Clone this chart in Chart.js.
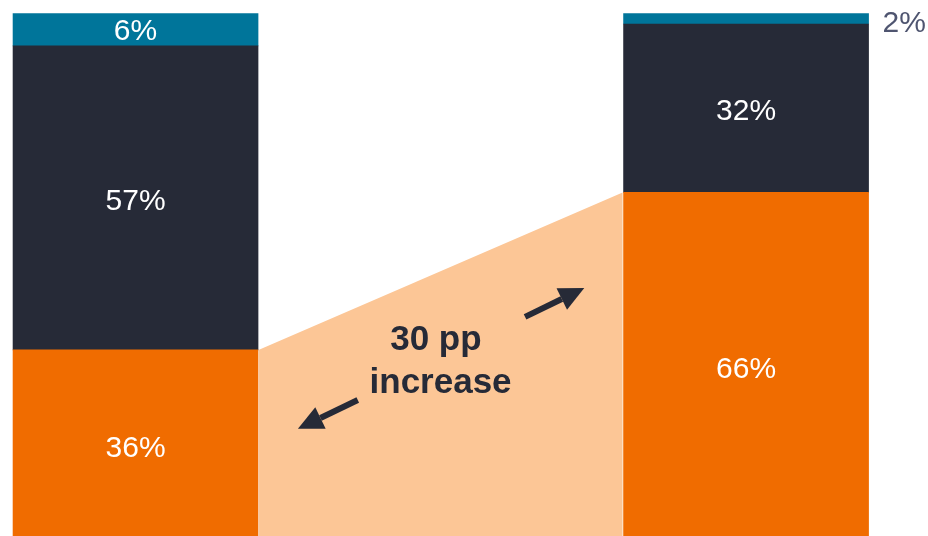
<!DOCTYPE html>
<html>
<head>
<meta charset="utf-8">
<script src="https://cdn.jsdelivr.net/npm/chart.js"></script>
<style>
  html, body { margin: 0; padding: 0; background: #ffffff; }
  #wrap { width: 928px; height: 536px; position: relative; }
</style>
</head>
<body>
<div id="wrap"><canvas id="bar-chart"></canvas></div>
<script>
// two stacked bars (before / after), shares in %
const positions = [0, 1];
const orangeValues = [35.6, 65.7];
const darkValues = [58.1, 32.2];
const tealValues = [6.2, 2.0];
const orangeLabels = ['36%', '66%'];
const darkLabels = ['57%', '32%'];
const tealLabels = ['6%', '2%'];

const calloutLines = ['30 pp', 'increase'];

const ORANGE = '#f06c00';
const DARK = '#262a37';
const TEAL = '#00759a';
const SHADE = '#fcc696';

const toPoints = (vals) => vals.map((v, i) => ({ x: positions[i], y: v }));

// shaded band joining the tops of the two orange segments
const shadePlugin = {
    id: 'shade',
    beforeDatasetsDraw(chart) {
        const ctx = chart.ctx;
        const bars = chart.getDatasetMeta(0).data;
        const left = bars[0], right = bars[1];
        const x0 = left.x + left.width / 2 + 1;
        const x1 = right.x - right.width / 2 - 1;
        ctx.save();
        ctx.fillStyle = SHADE;
        ctx.beginPath();
        ctx.moveTo(x0, left.base);
        ctx.lineTo(x0, left.y);
        ctx.lineTo(x1, right.y);
        ctx.lineTo(x1, right.base);
        ctx.closePath();
        ctx.fill();
        ctx.restore();
    }
};

function drawArrow(ctx, x0, y0, x1, y1) {
    const ang = Math.atan2(y1 - y0, x1 - x0);
    const headLen = 25, headW = 12;
    const bx = x1 - headLen * Math.cos(ang);
    const by = y1 - headLen * Math.sin(ang);
    ctx.beginPath();
    ctx.moveTo(x0, y0);
    ctx.lineTo(bx, by);
    ctx.stroke();
    ctx.beginPath();
    ctx.moveTo(x1, y1);
    ctx.lineTo(bx + headW * Math.sin(ang), by - headW * Math.cos(ang));
    ctx.lineTo(bx - headW * Math.sin(ang), by + headW * Math.cos(ang));
    ctx.closePath();
    ctx.fill();
}

// value labels + arrows + callout text
const labelPlugin = {
    id: 'labels',
    afterDatasetsDraw(chart) {
        const ctx = chart.ctx;
        const xs = chart.scales.x, ys = chart.scales.y;
        const size = 30;
        const half = size * 0.716 / 2; // half of digit height
        const nudge = [3, 1, 0];       // orange labels sit a bit low in the original
        ctx.save();
        ctx.textBaseline = 'alphabetic';
        ctx.font = size + 'px "Liberation Sans", Arial, sans-serif';
        chart.data.datasets.forEach((ds, di) => {
            chart.getDatasetMeta(di).data.forEach((el, i) => {
                const txt = ds.labels[i];
                const h = el.base - el.y;
                const cy = (el.y + el.base) / 2;
                if (h > 24) {
                    ctx.fillStyle = '#ffffff';
                    ctx.textAlign = 'center';
                    ctx.fillText(txt, el.x, cy + half + nudge[di]);
                } else {
                    ctx.fillStyle = '#4f5570';
                    ctx.textAlign = 'left';
                    ctx.fillText(txt, el.x + el.width / 2 + 14, cy + half + 3);
                }
            });
        });

        ctx.strokeStyle = DARK;
        ctx.fillStyle = DARK;
        ctx.lineWidth = 6;
        drawArrow(ctx, xs.getPixelForValue(0.364), ys.getPixelForValue(26.0),
                       xs.getPixelForValue(0.266), ys.getPixelForValue(20.5));
        drawArrow(ctx, xs.getPixelForValue(0.638), ys.getPixelForValue(41.9),
                       xs.getPixelForValue(0.735), ys.getPixelForValue(47.4));

        ctx.font = 'bold 35px "Liberation Sans", Arial, sans-serif';
        ctx.textAlign = 'center';
        ctx.textBaseline = 'alphabetic';
        ctx.fillText(calloutLines[0], xs.getPixelForValue(0.492), ys.getPixelForValue(35.6));
        ctx.fillText(calloutLines[1], xs.getPixelForValue(0.4996), ys.getPixelForValue(27.3));
        ctx.restore();
    }
};

const ctx = document.getElementById('bar-chart').getContext('2d');
new Chart(ctx, {
    type: 'bar',
    data: {
        datasets: [
            { label: 'orange', data: toPoints(orangeValues), labels: orangeLabels, backgroundColor: ORANGE, stack: 's' },
            { label: 'dark', data: toPoints(darkValues), labels: darkLabels, backgroundColor: DARK, stack: 's' },
            { label: 'teal', data: toPoints(tealValues), labels: tealLabels, backgroundColor: TEAL, stack: 's' }
        ]
    },
    options: {
        responsive: true,
        maintainAspectRatio: false,
        animation: false,
        barThickness: 245,
        layout: { padding: { top: 13, bottom: 0, left: 0, right: 0 } },
        plugins: {
            legend: { display: false },
            tooltip: { enabled: false }
        },
        scales: {
            x: { type: 'linear', display: false, offset: false, min: -0.222, max: 1.298 },
            y: { display: false, stacked: true, min: 0, max: 100 }
        }
    },
    plugins: [shadePlugin, labelPlugin]
});
</script>
</body>
</html>
